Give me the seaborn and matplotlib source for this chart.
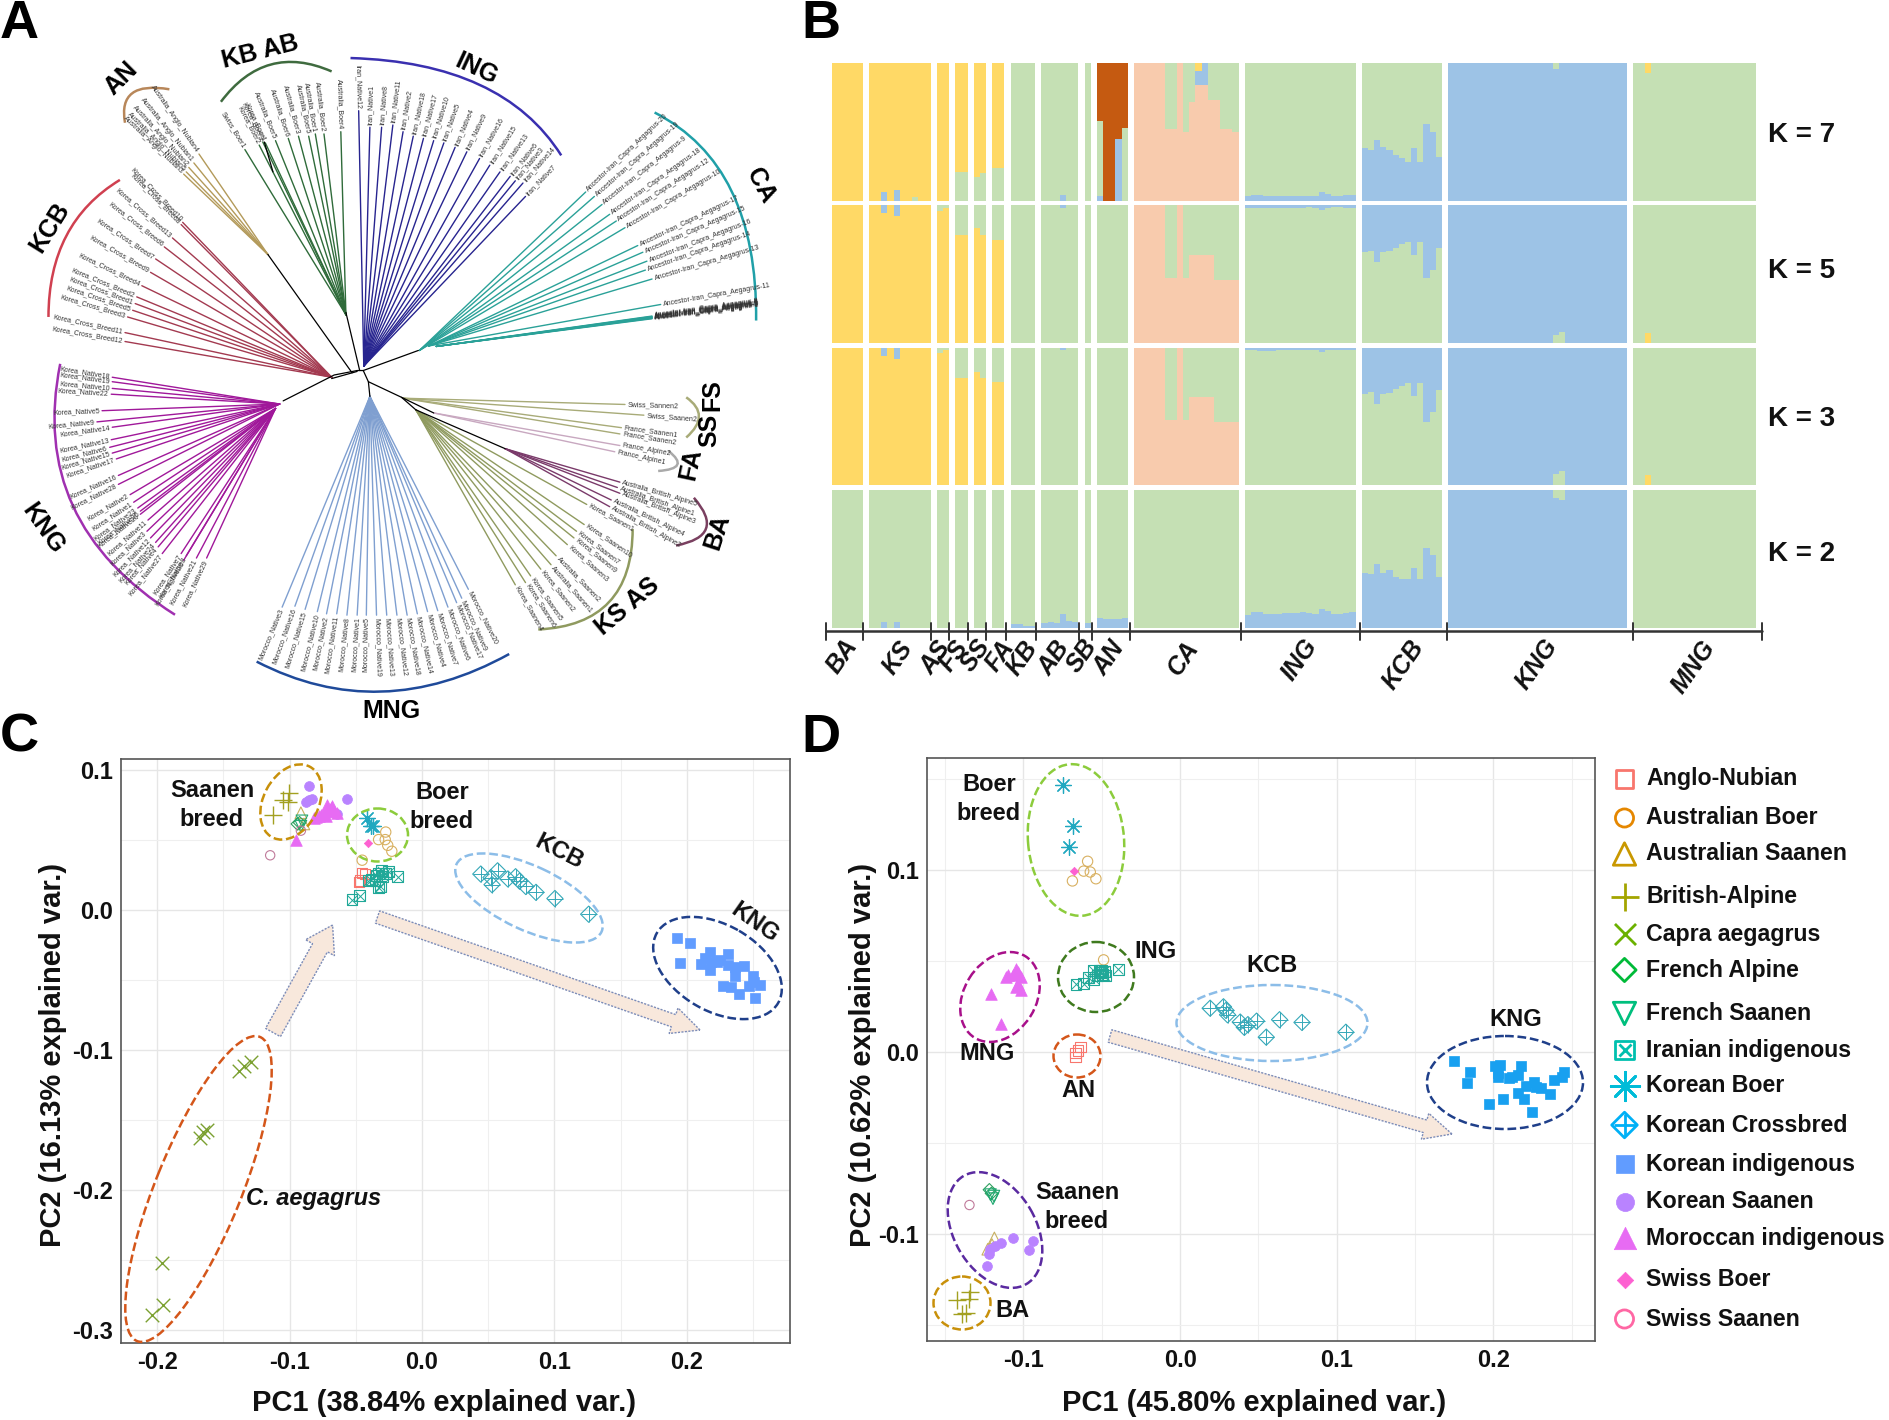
import numpy as np
import pandas as pd
import matplotlib
matplotlib.use("Agg")
import matplotlib.pyplot as plt
import seaborn as sns
from matplotlib.patches import Ellipse, FancyArrow, PathPatch
from matplotlib.path import Path

W, H = 1890, 1420
sns.set_theme(style="whitegrid")
plt.rcParams['font.family'] = ['Liberation Sans', 'DejaVu Sans']
plt.rcParams['axes.unicode_minus'] = False

# ---------- PCA data, panel C ----------
C_ANGLO = ([-.0452, -.0432, -.0475, -.0470], [.0262, .0255, .0198, .0208])
C_ABOER = ([-.0274, -.0328, -.0278, -.0259, -.0228, -.0452], [.0555, .0501, .0501, .0460, .0418, .0354])
C_ASAAN = ([-.0915, -.0892], [.0693, .0613])
C_BRIT = ([-.1127, -.1004, -.1050, -.1012], [.0680, .0836, .0782, .0772])
C_CAPRA = ([-.1386, -.1347, -.1293, -.1680, -.1656, -.1625, -.1961, -.1958, -.2042],
           [-.1152, -.1120, -.1088, -.1631, -.1590, -.1574, -.2522, -.2825, -.2898])
C_FALP = ([-.0942, -.0925], [.0613, .0622])
C_FSAAN = ([-.0907, -.0915], [.0635, .0597])
C_IRAN = ([-.0529, -.0471, -.0185, -.0317, -.0328, -.0405, -.0355, -.0328, -.0305, -.0278, -.0251, -.0297, -.0344, -.0382],
          [.0070, .0099, .0236, .0166, .0157, .0207, .0207, .0262, .0278, .0262, .0271, .0239, .0246, .0214])
C_KBOER = ([-.0413, -.0386, -.0367], [.0654, .0597, .0597])
C_KCROSS = ([.0444, .0521, .0529, .0571, .0649, .0707, .0737, .0784, .0861, .1004, .1259],
            [.0255, .0230, .0179, .0278, .0220, .0236, .0204, .0166, .0124, .0080, -.0032])
C_KNG = ([.1927, .2023, .1950, .2104, .2174, .2181, .2174, .2251, .2309, .2309, .2367, .2436, .2367, .2498, .2506, .2552, .2467, .2274, .2336, .2394, .2517, .2135, .2230],
         [-.0204, -.0236, -.0380, -.0386, -.0303, -.0377, -.0431, -.0361, -.0319, -.0393, -.0409, -.0402, -.0472, -.0472, -.0520, -.0539, -.0543, -.0546, -.0552, -.0600, -.0629, -.0345, -.0377])
C_KSAAN = ([-.0857, -.0568, -.0857, -.0830, -.0876, -.0645], [.0887, .0788, .0782, .0788, .0772, .0683])
C_MOR = ([-.0950, -.0819, -.0780, -.0741, -.0703, -.0683, -.0664, -.0645, -.0722, -.0760, -.0800, -.0690, -.0720],
         [.0501, .0654, .0667, .0686, .0709, .0740, .0709, .0692, .0667, .0680, .0660, .0725, .0745])
C_SBOER = ([-.0405], [.0476])
C_SSAAN = ([-.1147, -.0915], [.0389, .0565])

# ---------- PCA data, panel D ----------
D_ANGLO = ([-.0635, -.0650, -.0667, -.0667], [.0027, .0007, -.0005, -.0029])
D_ABOER = ([-.0590, -.0615, -.0573, -.0537, -.0687, -.0488], [.1048, .0994, .0989, .0952, .0940, .0506])
D_ASAAN = ([-.1185, -.1227, -.1200], [-.1023, -.1085, -.1060])
D_BRIT = ([-.1425, -.1341, -.1347, -.1390, -.1363], [-.1362, -.1323, -.1360, -.1440, -.1436])
D_FALP = ([-.1217, -.1204], [-.0758, -.0778])
D_FSAAN = ([-.1188, -.1194, -.1210], [-.0793, -.0807, -.0785])
D_IRAN = ([-.0394, -.0664, -.0615, -.0582, -.0550, -.0553, -.0527, -.0510, -.0495, -.0485, -.0504, -.0478, -.0517],
          [.0454, .0373, .0375, .0407, .0400, .0449, .0420, .0437, .0425, .0444, .0449, .0420, .0449])
D_KBOER = ([-.0750, -.0683, -.0710], [.1465, .1244, .1126])
D_KCROSS = ([.0192, .0277, .0293, .0303, .0384, .0410, .0433, .0488, .0550, .0635, .0778, .1058],
            [.0240, .0248, .0228, .0204, .0164, .0135, .0150, .0169, .0081, .0177, .0162, .0108])
D_KNG = ([.1751, .1848, .1832, .1969, .2060, .2010, .2044, .2027, .2098, .2174, .2157, .2157, .2196, .2249, .2256, .2272, .2304, .2359, .2386, .2435, .2451, .2209, .2027, .2119],
         [-.0052, -.0110, -.0169, -.0287, -.0260, -.0079, -.0071, -.0140, -.0145, -.0079, -.0128, -.0226, -.0258, -.0331, -.0164, -.0194, -.0201, -.0233, -.0152, -.0140, -.0108, -.0189, -.0115, -.0140])
D_KSAAN = ([-.1064, -.0937, -.0963, -.1142, -.1178, -.1211, -.1220, -.1233], [-.1021, -.1038, -.1092, -.1053, -.1067, -.1085, -.1109, -.1178])
D_MOR = ([-.1204, -.1145, -.1045, -.1097, -.1113, -.1064, -.1032, -.1015, -.1045, -.1015, -.1032],
         [.0317, .0152, .0454, .0425, .0412, .0425, .0437, .0412, .0358, .0343, .0375])
D_SBOER = ([-.0677], [.0994])
D_SSAAN = ([-.1344], [-.0842])

# ---------- legend ----------
BREEDS = ["Anglo-Nubian", "Australian Boer", "Australian Saanen", "British-Alpine", "Capra aegagrus",
          "French Alpine", "French Saanen", "Iranian indigenous", "Korean Boer", "Korean Crossbred",
          "Korean indigenous", "Korean Saanen", "Moroccan indigenous", "Swiss Boer", "Swiss Saanen"]
BREED_COLORS = ["#f8766d", "#e58700", "#c99800", "#a3a500", "#6bb100", "#00ba38", "#00bf7d", "#00c0af",
                "#00bcd8", "#00b0f6", "#619cff", "#b983ff", "#e76bf3", "#fd61d1", "#ff67a4"]
LEGEND_Y = [779, 818, 854, 897, 934, 970, 1013.5, 1050, 1086, 1125, 1164, 1202, 1238, 1279.5, 1319]

# ---------- structure plot data ----------
GROUPS = ["BA", "KS", "AS", "FS", "SS", "FA", "KB", "AB", "SB", "AN", "CA", "ING", "KCB", "KNG", "MNG"]
GROUP_N = [5, 10, 2, 2, 2, 2, 4, 6, 1, 5, 17, 18, 13, 29, 20]
Z5 = [0]*5; Z2 = [0]*2; Z4 = [0]*4; Z6 = [0]*6; Z10 = [0]*10; Z13 = [0]*13; Z17 = [0]*17; Z18 = [0]*18; Z29 = [0]*29; Z20 = [0]*20

K2_BLUE = (Z5 + [0, 0, .04, 0, .04, 0, 0, 0, 0, 0] + Z2 + Z2 + Z2 + Z2 + [.025, .025, .015, .015]
           + [.03, .04, .03, .10, .05, .04] + [.03] + [.07, .065, .065, .065, .07] + Z17
           + [.09, .11, .11, .10, .10, .10, .105, .105, .105, .11, .105, .10, .135, .12, .10, .10, .105, .11]
           + [.40, .39, .46, .40, .42, .37, .35, .35, .43, .35, .58, .53, .37]
           + [1]*17 + [.94, .93] + [1]*10 + Z20)

K3_YELLOW = ([1]*5 + [1, 1, .94, 1, .92, 1, 1, 1, 1, 1] + [.96, .98] + [.78, .78] + [.82, .78] + [.75, .75]
             + Z4 + Z6 + [0] + Z5 + Z17 + Z18 + Z13 + Z29 + [0, 0, .07] + [0]*17)
K3_PEACH = (Z5 + Z10 + Z2 + Z2 + Z2 + Z2 + Z4 + Z6 + [0] + Z5
            + [1, 1, 1, 1, 1, .47, .47, 1, .47, .64, .64, .64, .64, .46, .46, .46, .46] + Z18 + Z13 + Z29 + Z20)
K3_BLUE = (Z5 + [0, 0, .06, 0, .08, 0, 0, 0, 0, 0] + Z2 + Z2 + Z2 + Z2 + Z4 + [0, 0, 0, .02, 0, 0] + [0] + Z5 + Z17
           + [.02, .02, .025, .025, .025, .02, .02, .02, .02, .02, .015, .015, .03, .02, .015, .015, .015, .015]
           + [.34, .32, .41, .34, .33, .30, .28, .26, .35, .26, .54, .47, .31]
           + [1]*17 + [.92, .90] + [1]*10 + Z20)

K5_YELLOW = ([1]*5 + [1, 1, .94, 1, .92, 1, 1, 1, 1, 1] + [.96, .98] + [.78, .78] + [.83, .78] + [.75, .75]
             + Z4 + Z6 + [0] + Z5 + Z17 + Z18 + Z13 + Z29 + [0, 0, .07] + [0]*17)
K5_PEACH = (Z5 + Z10 + Z2 + Z2 + Z2 + Z2 + Z4 + Z6 + [0] + Z5
            + [1, 1, 1, 1, 1, .47, .47, 1, .47, .635, .635, .635, .635, .46, .46, .46, .46] + Z18 + Z13 + Z29 + Z20)
K5_BLUE = (Z5 + [0, 0, .06, 0, .08, 0, 0, 0, 0, 0] + Z2 + Z2 + Z2 + Z2 + Z4 + [0, 0, 0, .025, 0, 0] + [0] + Z5 + Z17
           + [.025, .02, .025, .025, .025, .02, .02, .02, .02, .02, .015, .02, .035, .02, .015, .015, .02, .02]
           + [.34, .33, .41, .34, .33, .31, .28, .265, .36, .265, .53, .47, .31]
           + [1]*17 + [.94, .92] + [1]*10 + Z20)

K7_BLUE_LOW = (Z5 + [0, 0, .06, 0, .08, 0, 0, 0, 0, 0] + Z2 + Z2 + Z2 + Z2 + Z4 + [0, 0, 0, .04, 0, 0] + [0]
               + [.03, 0, 0, .45, 0] + Z17
               + [.03, .04, .04, .03, .03, .035, .035, .035, .035, .035, .03, .03, .06, .045, .03, .03, .04, .04]
               + [.38, .37, .44, .39, .37, .33, .31, .28, .38, .28, .56, .50, .32]
               + [1]*17 + [.96] + [1]*11 + Z20)
K7_PEACH = (Z5 + Z10 + Z2 + Z2 + Z2 + Z2 + Z4 + Z6 + [0] + Z5
            + [1, 1, 1, 1, 1, .52, .52, 1, .50, .72, .84, .84, .73, .73, .52, .52, .50] + Z18 + Z13 + Z29 + Z20)
K7_BLUE_HIGH = (Z5 + Z10 + Z2 + Z2 + Z2 + Z2 + Z4 + Z6 + [0] + Z5
                + [0]*10 + [.10, .16] + [0]*5 + Z18 + Z13 + Z29 + Z20)
K7_YELLOW = ([1]*5 + [1, 1, .94, 1, .92, 1, 1, .975, 1, 1] + [1, 1] + [.79, .79] + [.83, .80] + [.76, .76]
             + Z4 + Z6 + [0] + Z5 + [0]*10 + [.06] + [0]*6 + Z18 + Z13 + Z29 + [0, 0, .07] + [0]*17)
K7_RUST = (Z5 + Z10 + Z2 + Z2 + Z2 + Z2 + Z4 + Z6 + [0] + [.42, 1, 1, .55, .47] + Z17 + Z18 + Z13 + Z29 + Z20)

K_LABELS = ["K = 7", "K = 5", "K = 3", "K = 2"]
YELLOW, GREEN, BLUE, PEACH, RUST = "#ffd966", "#c5e0b4", "#9dc3e6", "#f8cbad", "#c55a11"

# ---------- tree data (tip positions on the panel's own grid) ----------
ING_X = [703, 725, 748, 770, 790, 810, 830, 850, 870, 892, 915, 940, 960, 980, 1000, 1010, 1025, 1030]
ING_Y = [248, 285, 285, 280, 295, 305, 310, 315, 320, 330, 340, 355, 370, 385, 395, 405, 410, 440]
ING_ID = [12, 1, 8, 11, 2, 18, 17, 10, 5, 4, 9, 16, 15, 13, 6, 3, 14, 7]
CA_X = [1148, 1165, 1180, 1195, 1208, 1225, 1250, 1260, 1268, 1265, 1278, 1295, 1278, 1278, 1278, 1278, 1278, 1278, 1278, 1278]
CA_Y = [430, 440, 458, 480, 495, 510, 550, 565, 585, 605, 625, 682, 708, 709, 710, 711, 712, 712, 713, 714]
CA_ID = [20, 19, 9, 18, 12, 10, 17, 15, 16, 14, 13, 11, 8, 7, 6, 5, 4, 3, 2, 1]
KB_X = [480, 508, 515, 520, 540, 565, 585, 605, 618, 635, 668]
KB_Y = [335, 325, 318, 320, 315, 310, 305, 305, 300, 300, 295]
KB_NAMES = ["Swiss_Boer1", "Korea_Boer2", "Korea_Boer3", "Korea_Boer1", "Australia_Boer5", "Australia_Boer6",
            "Australia_Boer3", "Australia_Boer5", "Australia_Boer1", "Australia_Boer2", "Australia_Boer4"]
AN_X = [390, 380, 370, 365, 360]
AN_Y = [345, 365, 375, 385, 390]
AN_ID = [4, 1, 2, 5, 3]
KCB_X = [358, 355, 338, 322, 305, 295, 278, 268, 265, 260, 250, 245, 245]
KCB_Y = [498, 503, 533, 553, 580, 610, 640, 665, 680, 695, 710, 745, 765]
KCB_ID = [10, 8, 13, 6, 7, 9, 4, 2, 1, 5, 3, 11, 12]
KNG_X = [220, 220, 220, 218, 200, 190, 220, 218, 215, 220, 228, 232, 232, 255, 262, 270, 275, 275, 290, 288, 295, 305, 310, 318, 355, 365, 360, 385, 405]
KNG_Y = [845, 855, 870, 883, 920, 945, 957, 985, 1002, 1015, 1028, 1065, 1085, 1108, 1125, 1138, 1145, 1152, 1165, 1190, 1205, 1215, 1225, 1240, 1240, 1245, 1255, 1250, 1250]
KNG_ID = [18, 19, 10, 22, 5, 9, 14, 13, 6, 15, 17, 16, 28, 2, 1, 23, 25, 26, 11, 3, 12, 24, 4, 27, 7, 8, 20, 21, 29]
MNG_X = [553, 578, 598, 622, 640, 660, 680, 700, 718, 738, 758, 778, 798, 818, 838, 858, 878, 895, 905, 918]
MNG_Y = [1360, 1358, 1365, 1370, 1375, 1375, 1378, 1378, 1378, 1378, 1378, 1378, 1378, 1375, 1370, 1368, 1360, 1350, 1340, 1320]
MNG_ID = [3, 16, 15, 10, 2, 11, 8, 1, 5, 19, 13, 12, 18, 14, 4, 7, 6, 17, 9, 20]
KS_X = [1150, 1145, 1130, 1125, 1112, 1090, 1080, 1060, 1040, 1030, 1010]
KS_Y = [1130, 1175, 1190, 1205, 1220, 1245, 1265, 1275, 1290, 1305, 1310]
KS_NAMES = ["Korea_Saanen1", "Korea_Saanen10", "Korea_Saanen7", "Korea_Saanen9", "Korea_Saanen3", "Australia_Saanen2",
            "Australia_Saanen1", "Korea_Saanen2", "Korea_Saanen5", "Korea_Saanen6", "Korea_Saanen4"]
FS_X = [1225, 1262, 1218, 1215]
FS_Y = [906, 930, 958, 972]
FS_NAMES = ["Swiss_Sannen2", "Swiss_Saanen2", "France_Saanen1", "France_Saanen2"]
FA_X = [1215, 1205]
FA_Y = [998, 1012]
FA_NAMES = ["France_Alpine2", "France_Alpine1"]
BA_X = [1215, 1210, 1215, 1198, 1195]
BA_Y = [1080, 1092, 1105, 1120, 1135]
BA_ID = [5, 1, 3, 4, 2]


def axes_px(x0, y0, x1, y1, **kw):
    return fig.add_axes([x0 / W, 1 - y1 / H, (x1 - x0) / W, (y1 - y0) / H], **kw)


fig = plt.figure(figsize=(W / 100, H / 100), dpi=100, facecolor="white")

# ================= Panel A =================
axA = axes_px(0, 0, 800, 700)
axA.set_xlim(0, 1568)
axA.set_ylim(1568, 0)
axA.axis("off")
SX, SY = 800 / 1568, 700 / 1568


def fan(node, xs, ys, names, color, lw=1.0):
    for tx, ty, name in zip(xs, ys, names):
        axA.plot([node[0], tx], [node[1], ty], color=color, lw=lw, solid_capstyle="round", clip_on=False)
        dx, dy = (tx - node[0]) * SX, (node[1] - ty) * SY
        ang = np.degrees(np.arctan2(dy, dx))
        n = np.hypot(dx, dy)
        ox, oy = tx + dx / n * 5, ty - dy / n * 5
        if dx >= 0:
            axA.text(ox, oy, name, rotation=ang, rotation_mode="anchor", ha="left", va="center",
                     fontsize=5, color="#333333")
        else:
            axA.text(ox, oy, name, rotation=ang + 180, rotation_mode="anchor", ha="right", va="center",
                     fontsize=5, color="#333333")


fan((713, 820), ING_X, ING_Y, [f"Iran_Native{i}" for i in ING_ID], "#27248f")
fan((822, 785), CA_X[:6], CA_Y[:6], [f"Ancestor-Iran_Capra_Aegagrus-{i}" for i in CA_ID[:6]], "#2aa198")
fan((840, 775), CA_X[6:12], CA_Y[6:12], [f"Ancestor-Iran_Capra_Aegagrus-{i}" for i in CA_ID[6:12]], "#2aa198")
fan((855, 776), CA_X[12:], CA_Y[12:], [f"Ancestor-Iran_Capra_Aegagrus-{i}" for i in CA_ID[12:]], "#2aa198")
fan((678, 705), KB_X, KB_Y, KB_NAMES, "#2f6b3a")
fan((525, 570), AN_X, AN_Y, [f"Australia_Anglo_Nubian{i}" for i in AN_ID], "#b39a5a")
fan((650, 845), KCB_X, KCB_Y, [f"Korea_Cross_Breed{i}" for i in KCB_ID], "#a33a50")
fan((548, 905), KNG_X[:13], KNG_Y[:13], [f"Korea_Native{i}" for i in KNG_ID[:13]], "#a0189a")
fan((540, 915), KNG_X[13:], KNG_Y[13:], [f"Korea_Native{i}" for i in KNG_ID[13:]], "#a0189a")
fan((725, 888), MNG_X, MNG_Y, [f"Morocco_Native{i}" for i in MNG_ID], "#7f9fd0")
fan((815, 918), KS_X, KS_Y, KS_NAMES, "#8f9a5f")
fan((790, 892), FS_X, FS_Y, FS_NAMES, "#a8ab78")
fan((850, 925), FA_X, FA_Y, FA_NAMES, "#c8a8c0")
fan((990, 1005), BA_X, BA_Y, [f"Australia_British_Alpine{i}" for i in BA_ID], "#7a3a6a")

for xs, ys in [([712, 820], [830, 785]), ([712, 722, 725], [830, 855, 888]), ([722, 787, 815], [855, 890, 918]),
               ([712, 700, 655, 555], [830, 830, 840, 898]), ([700, 650], [832, 848]), ([705, 678], [830, 700]),
               ([690, 525], [835, 570]), ([815, 990], [918, 1005]), ([787, 850], [890, 925]),
               ([535, 518], [385, 318])]:
    axA.plot(xs, ys, color="black", lw=.9, clip_on=False)


def bracket(p0, c, p1, color, lw=1.8):
    axA.add_patch(PathPatch(Path([p0, c, p1], [Path.MOVETO, Path.CURVE3, Path.CURVE3]),
                            fc="none", ec=color, lw=lw, clip_on=False))


bracket((245, 275), (230, 180), (332, 200), "#b8875a")
bracket((433, 228), (520, 95), (650, 160), "#3f6b3f")
bracket((687, 130), (985, 140), (1100, 348), "#3a30b0")
bracket((1283, 252), (1485, 370), (1482, 718), "#20a0a8")
bracket((235, 403), (95, 500), (95, 710), "#d04050")
bracket((118, 815), (55, 1170), (343, 1377), "#a030b0")
bracket((503, 1482), (745, 1625), (998, 1465), "#1f4a9a")
bracket((1240, 1185), (1240, 1400), (1055, 1410), "#8f9a5f")
bracket((1360, 1115), (1425, 1200), (1325, 1222), "#7a4060")
bracket((1290, 1055), (1355, 1050), (1310, 1010), "#aaaaaa")
bracket((1345, 890), (1395, 930), (1345, 980), "#a8ab78")

for txt, x, y, rot in [("AN", 238, 175, 45), ("KB AB", 510, 115, 14), ("ING", 933, 155, -25), ("CA", 1490, 415, -62),
                       ("KCB", 98, 510, 58), ("KNG", 85, 1185, -55), ("MNG", 768, 1592, 0), ("KS AS", 1230, 1358, 40),
                       ("BA", 1405, 1190, 72), ("FA", 1355, 1040, 78), ("SS", 1390, 965, 90), ("FS", 1397, 885, 90)]:
    axA.text(x, y, txt, rotation=rot, ha="center", va="center", fontsize=18, fontweight="bold",
             color="black", clip_on=False)

# ================= Panel B =================
positions = []
pos = 0
for n in GROUP_N:
    positions.extend(np.arange(n) + pos + .5)
    pos += n + 1
positions = np.array(positions)


def draw_stack(y0, y1, series):
    ax = axes_px(832, y0, 1756, y1)
    ax.set_xlim(0, 150)
    ax.set_ylim(0, 1)
    ax.axis("off")
    known = [np.array(v, float) for v, c in series if v is not None]
    rest = np.clip(1 - sum(known), 0, 1)
    bottom = np.zeros(len(positions))
    for v, c in series:
        h = rest if v is None else np.array(v, float)
        ax.bar(positions, h, bottom=bottom, width=1.0, color=c, linewidth=0, antialiased=False)
        bottom = bottom + h


draw_stack(63, 200.5, [(K7_BLUE_LOW, BLUE), (K7_PEACH, PEACH), (None, GREEN), (K7_BLUE_HIGH, BLUE), (K7_YELLOW, YELLOW), (K7_RUST, RUST)])
draw_stack(205, 343, [(K5_YELLOW, YELLOW), (K5_PEACH, PEACH), (None, GREEN), (K5_BLUE, BLUE)])
draw_stack(347.5, 485, [(K3_YELLOW, YELLOW), (K3_PEACH, PEACH), (None, GREEN), (K3_BLUE, BLUE)])
draw_stack(490, 627.6, [(K2_BLUE, BLUE), (None, GREEN)])

# ================= Panels C, D =================


def pts(ax, xy, color, marker, s, hollow=False, lw=.8, alpha=1):
    x, y = np.array(xy[0]), np.array(xy[1])
    if hollow:
        sns.scatterplot(x=x, y=y, ax=ax, marker=marker, s=s, color=color, facecolor="none",
                        edgecolor=color, linewidth=lw, alpha=alpha, legend=False, zorder=3)
    else:
        sns.scatterplot(x=x, y=y, ax=ax, marker=marker, s=s, color=color, edgecolor=color,
                        linewidth=lw, alpha=alpha, legend=False, zorder=3)


def breed_points(ax, idx, xy, color=None):
    c = BREED_COLORS[idx] if color is None else color
    if idx == 0:
        pts(ax, xy, c, "s", 55, True)
    elif idx == 1:
        pts(ax, xy, "#d8b060", "o", 55, True)
    elif idx == 2:
        pts(ax, xy, "#c8b060", "^", 70, True)
    elif idx == 3:
        pts(ax, xy, "#a3a020", "+", 150, lw=1)
    elif idx == 4:
        pts(ax, xy, "#7ba030", "x", 95, lw=1)
    elif idx == 5:
        pts(ax, xy, "#30a060", "D", 40, True)
    elif idx == 6:
        pts(ax, xy, "#20a870", "v", 70, True)
    elif idx == 7:
        pts(ax, xy, "#20a898", "s", 62, True)
        pts(ax, xy, "#20a898", "x", 50, lw=.7)
    elif idx == 8:
        pts(ax, xy, "#20a8c0", (8, 2, 0), 130, lw=.9)
    elif idx == 9:
        pts(ax, xy, "#35a8b8", "D", 68, True)
        pts(ax, xy, "#35a8b8", "+", 120, lw=.7)
    elif idx == 10:
        pts(ax, xy, c, "s", 42, lw=.5)
    elif idx == 11:
        pts(ax, xy, c, "o", 50, lw=.5)
    elif idx == 12:
        pts(ax, xy, c, "^", 70, lw=.5)
    elif idx == 13:
        pts(ax, xy, c, "D", 18, lw=.5)
    elif idx == 14:
        pts(ax, xy, "#c07a9a", "o", 45, True)


def pca_axes(box, xlim, ylim, xt, yt, xtm, ytm, xl, yl, lab_x, lab_y, xlab_px, ylab_py):
    ax = axes_px(*box)
    ax.set_xlim(*xlim)
    ax.set_ylim(*ylim)
    ax.set_xticks(xt)
    ax.set_xticklabels([f"{v:.1f}" for v in xt])
    ax.set_yticks(yt)
    ax.set_yticklabels([f"{v:.1f}" for v in yt])
    ax.set_xticks(xtm, minor=True)
    ax.set_yticks(ytm, minor=True)
    ax.grid(which="major", color="#e6e6e6", lw=1.0)
    ax.grid(which="minor", color="#efefef", lw=.8)
    ax.set_axisbelow(True)
    ax.tick_params(which="both", length=0, labelsize=17, pad=6, labelcolor="#111111")
    for t in ax.get_xticklabels() + ax.get_yticklabels():
        t.set_fontweight("bold")
    for s in ax.spines.values():
        s.set_color("#555555")
        s.set_linewidth(1.2)
    ax.set_xlabel(xl, fontsize=21, fontweight="bold", color="#111111")
    ax.set_ylabel(yl, fontsize=21, fontweight="bold", color="#111111")
    ax.xaxis.set_label_coords((xlab_px - box[0]) / (box[2] - box[0]), -(lab_y - box[3]) / (box[3] - box[1]))
    ax.yaxis.set_label_coords((lab_x - box[0]) / (box[2] - box[0]), 1 - (ylab_py - box[1]) / (box[3] - box[1]))
    ax.xaxis.label.set_va("center")
    ax.yaxis.label.set_va("center")
    return ax


axC = pca_axes((121, 759, 790, 1343), (-.2274, .278), (-.3096, .1077),
               [-.2, -.1, 0, .1, .2], [.1, 0, -.1, -.2, -.3],
               [-.15, -.05, .05, .15, .25], [.05, -.05, -.15, -.25],
               "PC1 (38.84% explained var.)", "PC2 (16.13% explained var.)", 53, 1403, 444, 1055)
for i, xy in enumerate([C_ANGLO, C_ABOER, C_ASAAN, C_BRIT, C_CAPRA, C_FALP, C_FSAAN, C_IRAN, C_KBOER, C_KCROSS,
                        C_KNG, C_KSAAN, C_MOR, C_SBOER, C_SSAAN]):
    breed_points(axC, i, xy)

axD = pca_axes((927, 758, 1595, 1340.5), (-.1615, .2648), (-.1587, .1616),
               [-.1, 0, .1, .2], [.1, 0, -.1],
               [-.15, -.05, .05, .15, .25], [.15, .05, -.05, -.15],
               "PC1 (45.80% explained var.)", "PC2 (10.62% explained var.)", 863, 1403, 1254, 1055)
for i, xy in [(0, D_ANGLO), (1, D_ABOER), (2, D_ASAAN), (3, D_BRIT), (5, D_FALP), (6, D_FSAAN), (7, D_IRAN),
              (8, D_KBOER), (9, D_KCROSS), (10, D_KNG), (11, D_KSAAN), (12, D_MOR), (13, D_SBOER), (14, D_SSAAN)]:
    breed_points(axD, i, xy, color="#18a0f0" if i == 10 else None)

# ================= overlay: annotations, brackets, legend =================
ov = fig.add_axes([0, 0, 1, 1], facecolor="none")
ov.set_xlim(0, W)
ov.set_ylim(H, 0)
ov.axis("off")

for txt, x, y in [("A", 0, 38), ("B", 801, 38), ("C", 0, 752), ("D", 801, 752)]:
    ov.text(x, y, txt, fontsize=39, fontweight="bold", ha="left", va="baseline", color="black")

# Panel B labels and bracket
ov.plot([825.7, 1762], [630.6, 630.6], color="#333333", lw=1.8)
for zx in [37, 90, 188, 215, 241, 268, 296, 339, 401, 420, 474, 634, 806, 930, 1198, 1384]:
    ov.plot([800 + zx / 1.4385] * 2, [623, 640], color="#333333", lw=1.4)
for g, zx, zy in zip(GROUPS, [60, 140, 195, 222, 252, 288, 320, 365, 405, 445, 552, 718, 868, 1060, 1285],
                     [1420, 1425, 1425, 1420, 1420, 1420, 1425, 1425, 1420, 1425, 1425, 1430, 1440, 1440, 1445]):
    ov.text(800 + zx / 1.4385, 40 + zy / 2.306, g, rotation=55, ha="center", va="center", fontsize=18,
            fontweight="bold", fontstyle="italic", color="#111111")
for lab, y in zip(K_LABELS, [134.5, 271, 419, 554]):
    ov.text(1768, y, lab, fontsize=20, fontweight="bold", ha="left", va="center", color="#111111")

# Ellipses: centre x, y, major, minor, screen angle, colour
ELLIPSES = [(291, 802, 80, 55, 62, "#c8900a"), (377.5, 835, 61, 53, 0, "#8ccc3c"), (529, 898, 160, 64, -25, "#8cbde8"),
            (717.5, 968, 140, 86, -30, "#1f3f8a"), (198.5, 1189, 328, 86, 68, "#d4561a"),
            (1076, 840, 152, 96, 95, "#8ccc3c"), (1096, 977, 76, 70, 0, "#3f7a1e"), (1000, 997, 96, 72, 58, "#a8108a"),
            (1077, 1056, 47, 43, 0, "#d4561a"), (1272, 1023, 191, 76, 0, "#8cbde8"), (1505, 1082.5, 156, 93, 0, "#1f3f8a"),
            (995, 1230, 125, 82, -60, "#5a2aa0"), (962, 1303, 57, 53, 0, "#c8900a")]
for cx, cy, a, b, ang, col in ELLIPSES:
    ov.add_patch(Ellipse((cx, cy), a, b, angle=-ang, fc="none", ec=col, lw=1.8, ls=(0, (3.5, 1.5))))

# Arrows: start, end, shaft width, head width, head length
for x0, y0, x1, y1, w, hw, hl in [(273, 1032.5, 332.6, 925, 17, 33, 26), (377.5, 917, 700, 1030, 13, 27, 28),
                                  (1110, 1036, 1452, 1134, 13, 27, 28)]:
    ov.add_patch(FancyArrow(x0, y0, x1 - x0, y1 - y0, width=w, head_width=hw, head_length=hl,
                            length_includes_head=True, fc="#f8e8dc", ec="#7c8cb8", lw=1.0, ls=(0, (1.5, 1))))

for txt, x, y, rot, kw in [("Saanen\nbreed", 212, 805, 0, {}), ("Boer\nbreed", 442, 807, 0, {}), ("KCB", 559, 852, -27, {}),
                           ("KNG", 755, 923, -35, {}), ("C. aegagrus", 314, 1199, 0, {"fontstyle": "italic"}),
                           ("Boer\nbreed", 989, 799, 0, {}), ("ING", 1155, 951, 0, {}), ("KCB", 1272, 966, 0, {}),
                           ("KNG", 1516, 1020, 0, {}), ("MNG", 987, 1053.5, 0, {}), ("AN", 1078, 1090.5, 0, {}),
                           ("Saanen\nbreed", 1077, 1207, 0, {}), ("BA", 1012, 1310.5, 0, {})]:
    ov.text(x, y, txt, rotation=rot, ha="center", va="center", fontsize=17, fontweight="bold",
            color="#111111", linespacing=1.3, **kw)

# Legend
LEG_STYLE = [("s", 1, 150), ("o", 1, 170), ("^", 1, 260), ("+", 0, 420), ("x", 0, 230), ("D", 1, 140), ("v", 1, 260),
             ("s", 1, 170), ((8, 2, 0), 0, 420), ("D", 1, 170), ("s", 2, 170), ("o", 2, 170), ("^", 2, 260),
             ("D", 2, 70), ("o", 1, 170)]
for name, col, y, (m, kind, s) in zip(BREEDS, BREED_COLORS, LEGEND_Y, LEG_STYLE):
    xx, yy = [1624.5], [y]
    if kind == 1:
        sns.scatterplot(x=xx, y=yy, ax=ov, marker=m, s=s, color=col, facecolor="none", edgecolor=col, linewidth=2.0, legend=False)
    elif kind == 0:
        sns.scatterplot(x=xx, y=yy, ax=ov, marker=m, s=s, color=col, edgecolor=col, linewidth=2.0, legend=False)
    else:
        sns.scatterplot(x=xx, y=yy, ax=ov, marker=m, s=s, color=col, edgecolor=col, linewidth=.5, legend=False)
    ov.text(1646, y, name, fontsize=16.7, fontweight="bold", ha="left", va="center", color="#111111")
sns.scatterplot(x=[1624.5], y=[LEGEND_Y[7]], ax=ov, marker="x", s=75, color=BREED_COLORS[7], linewidth=2, legend=False)
sns.scatterplot(x=[1624.5], y=[LEGEND_Y[9]], ax=ov, marker="+", s=260, color=BREED_COLORS[9], linewidth=2, legend=False)
ov.set_xlim(0, W)
ov.set_ylim(H, 0)
ov.axis("off")

fig.savefig("out.png", dpi=100)
